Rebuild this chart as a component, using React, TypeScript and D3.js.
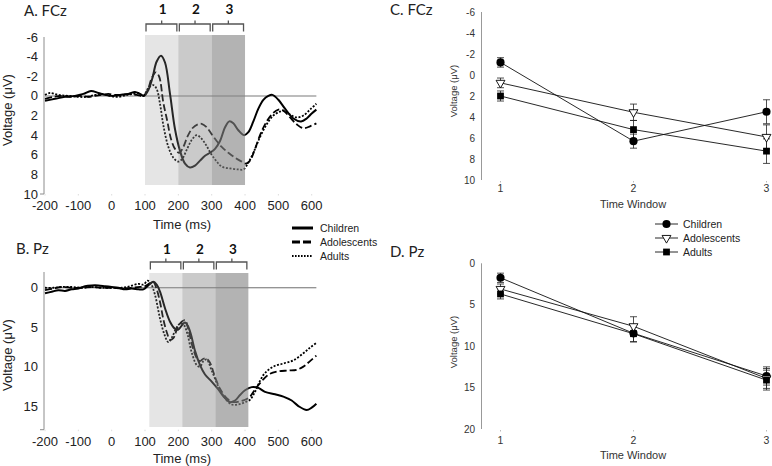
import * as d3 from "d3";

// ERP waveforms: [time ms, voltage µV] (negative plotted upward)
const timeTicks = [-200, -100, 0, 100, 200, 300, 400, 500, 600];
const fczVoltTicks = [-6, -4, -2, 0, 2, 4, 6, 8, 10];
const pzVoltTicks = [0, 5, 10, 15];
const windowNames = ["1", "2", "3"];
const fczWindowEdges = [100, 200, 300, 400];
const pzWindowEdges = [113, 212, 311, 410];
const groups = ["Children", "Adolescents", "Adults"];

const fczChildren: [number, number][] = [
  [-200, 0.5], [-170, 0.3], [-140, 0.1], [-110, 0], [-85, -0.2], [-62, -0.5], [-40, -0.3],
  [-20, -0.1], [0, 0], [25, -0.1], [50, -0.2], [70, -0.4], [85, -0.2], [97, 0], [110, -0.6],
  [122, -1.8], [135, -3.5], [148, -4.1], [160, -3.4], [175, -0.2], [190, 3.4], [205, 5.6],
  [220, 6.9], [235, 7.3], [250, 7.1], [265, 6.6], [280, 6.1], [295, 5.8], [310, 5.4],
  [325, 4.6], [340, 3.2], [353, 2.6], [365, 2.8], [380, 3.5], [397, 4.0], [410, 3.7],
  [425, 2.6], [440, 1.3], [455, 0.4], [470, 0], [482, -0.1], [500, 0.4], [520, 1.3],
  [545, 2.3], [568, 2.6], [585, 2.3], [600, 1.8], [614, 1.4],
];
const fczAdolescents: [number, number][] = [
  [-200, 0.3], [-175, 0.1], [-150, 0], [-120, 0.1], [-95, 0], [-70, 0.1], [-50, 0],
  [-30, -0.1], [-10, -0.2], [10, -0.1], [30, -0.1], [55, -0.2], [75, -0.1], [95, 0],
  [108, -0.6], [120, -1.8], [132, -2.4], [142, -2.0], [155, 0.7], [167, 2.6], [178, 4.4],
  [190, 5.4], [203, 5.8], [215, 5.2], [228, 4.1], [242, 3.3], [258, 2.9], [270, 2.85],
  [285, 3.2], [300, 3.9], [315, 4.6], [330, 5.2], [350, 5.8], [370, 6.3], [390, 6.7],
  [402, 6.9], [415, 6.6], [430, 5.4], [445, 4.0], [460, 2.9], [480, 1.9], [500, 1.4],
  [515, 1.5], [535, 2.2], [555, 2.9], [575, 3.3], [595, 3.1], [614, 2.8],
];
const fczAdults: [number, number][] = [
  [-200, -0.1], [-185, -0.3], [-160, -0.1], [-130, 0], [-100, 0.1], [-75, 0.1], [-50, -0.1],
  [-30, -0.2], [-5, 0], [20, 0.1], [45, -0.1], [65, -0.2], [80, -0.3], [95, 0], [110, -0.8],
  [125, -1.1], [135, -0.7], [145, 0.8], [155, 3.0], [170, 5.2], [185, 6.3], [200, 6.7],
  [212, 6.4], [225, 5.5], [240, 4.5], [255, 4.0], [268, 4.3], [283, 5.0], [298, 5.9],
  [313, 6.6], [330, 7.2], [355, 7.4], [380, 7.5], [395, 7.5], [410, 6.8], [425, 5.8],
  [445, 4.2], [465, 2.9], [485, 2.0], [505, 1.6], [518, 1.5], [535, 1.9], [555, 2.2],
  [575, 2.0], [595, 1.4], [614, 0.8],
];

const pzChildren: [number, number][] = [
  [-200, 0.7], [-180, 0.5], [-160, 0.3], [-140, 0.4], [-120, 0.2], [-100, 0.1], [-80, -0.2],
  [-60, -0.3], [-40, -0.3], [-20, -0.2], [0, -0.1], [20, 0], [40, 0.2], [60, 0.1], [80, 0.2],
  [95, 0.2], [110, -0.3], [125, -0.75], [135, -0.4], [145, 0.5], [160, 2.6], [175, 4.3],
  [190, 5.2], [200, 5.3], [210, 4.8], [220, 4.4], [228, 4.8], [237, 5.8], [250, 8.0],
  [265, 9.8], [280, 11.0], [300, 11.9], [320, 12.9], [340, 14.0], [355, 14.5], [370, 14.3],
  [385, 13.6], [400, 13.0], [420, 12.6], [440, 12.7], [460, 13.2], [490, 13.5], [515, 13.8],
  [540, 14.3], [560, 15.0], [585, 15.5], [600, 15.2], [614, 14.7],
];
const pzAdolescents: [number, number][] = [
  [-200, 0.3], [-175, 0.1], [-150, -0.1], [-120, 0], [-90, 0], [-60, -0.1], [-30, 0], [0, 0],
  [30, 0.1], [60, 0], [85, -0.1], [100, -0.2], [115, -0.6], [125, -0.75], [135, 0.2],
  [145, 1.8], [155, 4.0], [165, 5.6], [175, 6.6], [185, 6.4], [198, 5.0], [210, 4.3],
  [220, 4.1], [230, 5.3], [242, 7.4], [255, 8.9], [265, 9.3], [275, 9.0], [285, 9.0],
  [295, 9.5], [310, 11.3], [325, 12.8], [345, 14.0], [365, 14.5], [385, 14.4], [400, 14.2],
  [415, 13.8], [430, 12.9], [445, 12.1], [460, 11.4], [475, 10.9], [500, 10.6], [530, 10.5],
  [555, 10.4], [575, 10.0], [595, 9.3], [614, 8.6],
];
const pzAdults: [number, number][] = [
  [-200, 0], [-175, 0], [-150, -0.1], [-120, -0.1], [-90, 0], [-60, -0.1], [-30, 0], [0, 0],
  [30, 0], [55, -0.2], [80, -0.5], [95, -0.4], [108, -0.9], [118, -0.5], [130, 0.9],
  [145, 3.9], [158, 5.9], [170, 6.9], [182, 6.2], [195, 5.0], [208, 4.5], [218, 4.8],
  [228, 6.0], [240, 8.2], [255, 9.8], [265, 10.0], [275, 9.3], [285, 9.1], [300, 10.5],
  [320, 12.5], [340, 14.0], [360, 14.8], [380, 14.8], [400, 14.5], [415, 14.2], [430, 13.2],
  [445, 11.8], [460, 10.8], [485, 10.0], [515, 9.6], [545, 9.2], [575, 8.3], [595, 7.6],
  [614, 7.0],
];

// time-window means and error bars (µV)
const windowIds = [1, 2, 3];
const meanFczChildren = [-1.2, 6.3, 3.5];
const errFczChildren = [0.45, 0.67, 1.14];
const meanFczAdolescents = [0.75, 3.55, 5.9];
const errFczAdolescents = [0.46, 0.78, 1.15];
const meanFczAdults = [2.0, 5.2, 7.25];
const errFczAdults = [0.48, 0.87, 1.17];
const meanPzChildren = [1.75, 8.45, 13.6];
const errPzChildren = [0.56, 1.0, 1.1];
const meanPzAdolescents = [3.1, 7.6, 13.9];
const errPzAdolescents = [0.6, 1.15, 1.2];
const meanPzAdults = [3.7, 8.5, 14.1];
const errPzAdults = [0.6, 1.0, 1.2];
const fczWinTicks = [-6, -4, -2, 0, 2, 4, 6, 8, 10];
const pzWinTicks = [0, 5, 10, 15, 20];

const FONT = "'Liberation Sans', Arial, sans-serif";
const TITLE_FONT = "Lato, 'Open Sans', sans-serif";
const lineDash = [null, "7,3", "2,1.6"];
const shadeFill = ["#979797", "#898989", "#848484"];
const shadeAlpha = [0.25, 0.45, 0.62];

interface ErpProps {
  title: string;
  titleX: number;
  titleY: number;
  yDomain: [number, number];
  yRange: [number, number];
  yTicks: number[];
  edges: number[];
  shade: [number, number];
  bracketY: number;
  numY: number;
  xLabelY: number;
  timeLabelY: number;
  voltY: number;
  zeroColor: string;
  zeroWidth: number;
  series: [number, number][][];
}

function ErpPanel(p: ErpProps) {
  const x = d3.scaleLinear().domain([-200, 600]).range([45, 311.7]);
  const y = d3.scaleLinear().domain(p.yDomain).range(p.yRange);
  const line = d3
    .line<[number, number]>()
    .x((d) => x(d[0]))
    .y((d) => y(d[1]))
    .curve(d3.curveCatmullRom.alpha(0.5));
  const last = d3.max(p.series, (s) => s[s.length - 1][0]) as number;

  return (
    <g>
      <text x={p.titleX} y={p.titleY} fontFamily={TITLE_FONT} fontSize={15} fill="#222">
        {p.title}
      </text>
      <line x1={44} x2={44} y1={p.yRange[0]} y2={p.yRange[1]} stroke="#8c8c8c" />
      <line x1={40} x2={44} y1={p.yRange[1]} y2={p.yRange[1]} stroke="#8c8c8c" />
      {p.yTicks.map((t) => (
        <text key={t} x={38} y={y(t)} dy="0.35em" textAnchor="end" fontFamily={FONT} fontSize={13} fill="#222">
          {t}
        </text>
      ))}
      {timeTicks.map((t) => (
        <g key={t}>
          <line x1={x(t)} x2={x(t)} y1={p.yRange[1]} y2={p.yRange[1] + 1.5} stroke="#ddd" />
          <text x={x(t)} y={p.xLabelY} textAnchor="middle" fontFamily={FONT} fontSize={13} fill="#222">
            {t}
          </text>
        </g>
      ))}
      <text x={182} y={p.timeLabelY} textAnchor="middle" fontFamily={FONT} fontSize={13} fill="#222">
        Time (ms)
      </text>
      <text
        transform={`translate(12,${p.voltY}) rotate(-90)`}
        textAnchor="middle"
        fontFamily={FONT}
        fontSize={13}
        fill="#222"
      >
        Voltage (μV)
      </text>
      <line x1={x(-200)} x2={x(last)} y1={y(0)} y2={y(0)} stroke={p.zeroColor} strokeWidth={p.zeroWidth} />
      {p.series.map((s, i) => (
        <path
          key={i}
          d={line(s) ?? ""}
          fill="none"
          stroke="#000"
          strokeWidth={i === 0 ? 2 : 1.8}
          strokeDasharray={lineDash[i] ?? undefined}
        />
      ))}
      {windowNames.map((n, i) => {
        const x0 = x(p.edges[i]);
        const x1 = x(p.edges[i + 1]);
        const cx = (x0 + x1) / 2;
        return (
          <g key={n}>
            <rect
              x={x0}
              y={p.shade[0]}
              width={x1 - x0}
              height={p.shade[1] - p.shade[0]}
              fill={shadeFill[i]}
              fillOpacity={shadeAlpha[i]}
            />
            <path
              d={`M${x0 + 1},${p.bracketY + 7.5}V${p.bracketY}H${x1 - 1.5}V${p.bracketY + 7.5}M${cx},${p.bracketY}V${p.bracketY - 3.5}`}
              fill="none"
              stroke="#555"
              strokeWidth={1.3}
            />
            <text x={cx + 1} y={p.numY} textAnchor="middle" fontFamily={TITLE_FONT} fontWeight="bold" fontSize={13.5} fill="#111">
              {n}
            </text>
          </g>
        );
      })}
    </g>
  );
}

interface WinProps {
  title: string;
  titleY: number;
  yDomain: [number, number];
  yRange: [number, number];
  yTicks: number[];
  xLabelY: number;
  titleXY: number;
  voltY: number;
  means: number[][];
  errs: number[][];
}

const symbolPath = (i: number) =>
  i === 0
    ? d3.symbol(d3.symbolCircle, 52)()
    : i === 1
    ? d3.symbol(d3.symbolTriangle, 34)()
    : d3.symbol(d3.symbolSquare, 46)();

function Marker({ i, cx, cy }: { i: number; cx: number; cy: number }) {
  return (
    <path
      d={symbolPath(i) ?? ""}
      transform={`translate(${cx},${cy})${i === 1 ? " rotate(180)" : ""}`}
      fill={i === 1 ? "#fff" : "#000"}
      stroke="#000"
      strokeWidth={i === 1 ? 0.9 : 0}
    />
  );
}

function WindowPanel(p: WinProps) {
  const x = d3.scaleLinear().domain([1, 3]).range([500.5, 766.5]);
  const y = d3.scaleLinear().domain(p.yDomain).range(p.yRange);
  const line = d3
    .line<number>()
    .x((_, i) => x(windowIds[i]))
    .y((d) => y(d));
  return (
    <g>
      <text x={390} y={p.titleY} fontFamily={TITLE_FONT} fontSize={15} fill="#222">
        {p.title}
      </text>
      <line x1={481.5} x2={481.5} y1={p.yRange[0]} y2={p.yRange[1]} stroke="#999" />
      {p.yTicks.map((t) => (
        <text key={t} x={475} y={y(t)} dy="0.35em" textAnchor="end" fontFamily={FONT} fontSize={10} fill="#333">
          {t}
        </text>
      ))}
      {windowIds.map((w) => (
        <g key={w}>
          <line x1={x(w)} x2={x(w)} y1={p.yRange[1] + 1} y2={p.yRange[1] + 2.5} stroke="#bbb" />
          <text x={x(w)} y={p.xLabelY} textAnchor="middle" fontFamily={FONT} fontSize={10.5} fill="#333">
            {w}
          </text>
        </g>
      ))}
      <text x={633} y={p.titleXY} textAnchor="middle" fontFamily={FONT} fontSize={11} fill="#333">
        Time Window
      </text>
      <text
        transform={`translate(457,${p.voltY}) rotate(-90)`}
        textAnchor="middle"
        fontFamily={FONT}
        fontSize={9.5}
        fill="#333"
      >
        Voltage (μV)
      </text>
      {p.means.map((m, g) => (
        <path key={g} d={line(m) ?? ""} fill="none" stroke="#111" strokeWidth={0.9} />
      ))}
      {p.means.map((m, g) =>
        m.map((v, k) => {
          const cx = x(windowIds[k]);
          const lo = y(v - p.errs[g][k]);
          const hi = y(v + p.errs[g][k]);
          return (
            <path
              key={`${g}-${k}`}
              d={`M${cx},${lo}V${hi}M${cx - 3.5},${lo}H${cx + 3.5}M${cx - 3.5},${hi}H${cx + 3.5}`}
              stroke="#222"
              strokeWidth={0.8}
              fill="none"
            />
          );
        })
      )}
      {p.means.map((m, g) =>
        m.map((v, k) => <Marker key={`m${g}-${k}`} i={g} cx={x(windowIds[k])} cy={y(v)} />)
      )}
    </g>
  );
}

export default function App() {
  const legendA = { x0: 292, x1: 313, tx: 320, y: [228, 242, 256] };
  const legendC = { x0: 655, x1: 678, tx: 683, y: [224, 238, 252] };
  return (
    <svg
      width={772}
      height={466}
      viewBox="0 0 772 466"
      style={{ position: "absolute", left: 0, top: 0, background: "#fff" }}
    >
      <rect width={772} height={466} fill="#fff" />
      <ErpPanel
        title="A. FCz"
        titleX={24}
        titleY={16}
        yDomain={[-6, 10]}
        yRange={[37, 194]}
        yTicks={fczVoltTicks}
        edges={fczWindowEdges}
        shade={[35, 185]}
        bracketY={24}
        numY={14}
        xLabelY={210}
        timeLabelY={229}
        voltY={110}
        zeroColor="#a6a6a6"
        zeroWidth={1.5}
        series={[fczChildren, fczAdolescents, fczAdults]}
      />
      <ErpPanel
        title="B. Pz"
        titleX={16}
        titleY={254}
        yDomain={[-2, 18]}
        yRange={[272, 429.7]}
        yTicks={pzVoltTicks}
        edges={pzWindowEdges}
        shade={[273, 427]}
        bracketY={262}
        numY={254}
        xLabelY={446}
        timeLabelY={463}
        voltY={355}
        zeroColor="#6e6e6e"
        zeroWidth={1}
        series={[pzChildren, pzAdolescents, pzAdults]}
      />
      {groups.map((g, i) => (
        <g key={g}>
          <line
            x1={legendA.x0}
            x2={legendA.x1}
            y1={legendA.y[i]}
            y2={legendA.y[i]}
            stroke="#000"
            strokeWidth={i === 2 ? 2 : 3}
            strokeDasharray={i === 1 ? "8,3" : i === 2 ? "1.6,1.4" : undefined}
          />
          <text x={legendA.tx} y={legendA.y[i]} dy="0.35em" fontFamily={FONT} fontSize={10.5} fill="#222">
            {g}
          </text>
        </g>
      ))}
      <WindowPanel
        title="C. FCz"
        titleY={15}
        yDomain={[-6, 10]}
        yRange={[12, 180]}
        yTicks={fczWinTicks}
        xLabelY={192}
        titleXY={208}
        voltY={91}
        means={[meanFczChildren, meanFczAdolescents, meanFczAdults]}
        errs={[errFczChildren, errFczAdolescents, errFczAdults]}
      />
      <WindowPanel
        title="D. Pz"
        titleY={257}
        yDomain={[0, 20]}
        yRange={[263.3, 429]}
        yTicks={pzWinTicks}
        xLabelY={444}
        titleXY={459}
        voltY={342}
        means={[meanPzChildren, meanPzAdolescents, meanPzAdults]}
        errs={[errPzChildren, errPzAdolescents, errPzAdults]}
      />
      {groups.map((g, i) => (
        <g key={`c${g}`}>
          <line x1={legendC.x0} x2={legendC.x1} y1={legendC.y[i]} y2={legendC.y[i]} stroke="#111" strokeWidth={0.9} />
          <Marker i={i} cx={(legendC.x0 + legendC.x1) / 2} cy={legendC.y[i]} />
          <text x={legendC.tx} y={legendC.y[i]} dy="0.35em" fontFamily={FONT} fontSize={10.5} fill="#222">
            {g}
          </text>
        </g>
      ))}
    </svg>
  );
}
